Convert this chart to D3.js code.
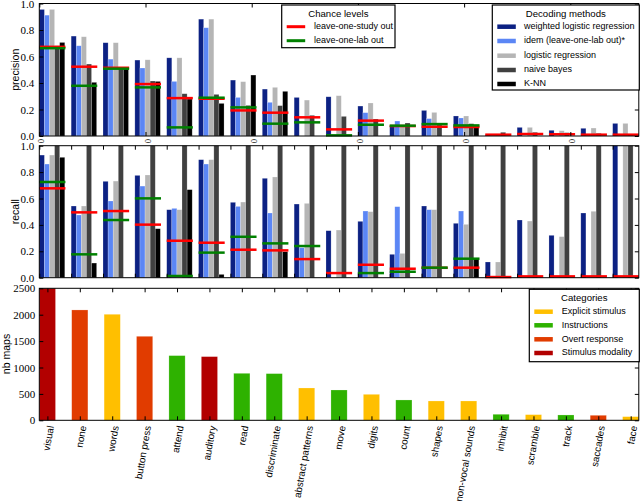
<!DOCTYPE html>
<html><head><meta charset="utf-8">
<script src="https://cdn.jsdelivr.net/npm/d3@7"></script>
<style>body{margin:0;background:#fff}svg{display:block}</style>
</head><body>
<script>
const categories = ["visual","none","words","button press","attend","auditory","read","discriminate","abstract patterns","move","digits","count","shapes","non-vocal sounds","inhibit","scramble","track","saccades","face"];
const methods = ["weighted logistic regression","idem (leave-one-lab out)*","logistic regression","naive bayes","K-NN"];
const methodColors = ["#0c2183","#5b86f5","#b5b5b5","#404040","#000000"];

const precisionWLR  = [0.955,0.754,0.704,0.573,0.59,0.882,0.422,0.354,0.291,0.296,0.226,0.075,0.193,0.151,0.01,0.065,0.043,0.058,0.095];
const precisionIdem = [0.912,0.681,0.58,0.513,0.412,0.817,0.291,0.254,0,0,0.176,0.113,0.131,0.136,0,0,0,0,0];
const precisionLR   = [0.955,0.749,0.704,0.575,0.59,0.882,0.41,0.367,0.271,0.304,0.249,0.08,0.178,0.151,0.01,0.065,0.04,0.06,0.095];
const precisionNB   = [0.68,0.543,0.515,0.415,0.319,0.314,0.231,0.229,0.156,0.148,0.128,0.098,0.083,0.093,0.028,0.028,0.025,0.02,0.013];
const precisionKNN  = [0.706,0.405,0.51,0.412,0.279,0.246,0.46,0.337,0,0,0,0,0,0.063,0,0,0,0,0];
const chanceStudyP  = [0.673,0.523,0.515,0.392,0.286,0.281,0.193,0.176,0.141,0.05,0.116,0.075,0.07,0.068,0.01,0.015,0.013,0.01,0.01];
const chanceLabP    = [0.663,0.379,0.508,0.367,0.065,0.289,0.216,0.093,0.103,0.005,0.085,0.078,0.09,0.08,null,null,null,null,null];

const recallWLR  = [0.929,0.543,0.73,0.775,0.515,0.894,0.571,0.753,0.558,0.356,0.427,0.177,0.543,0.412,0.119,0.437,0.321,0.49,1.0];
const recallIdem = [0.861,0.475,0.581,0.694,0.525,0.861,0.54,0.49,0.227,0,0.505,0.538,0.515,0.505,0,0,0,0,0];
const recallLR   = [0.929,0.543,0.732,0.778,0.515,0.894,0.573,0.763,0.563,0.361,0.5,0.184,0.515,0.404,0.119,0.429,0.311,0.503,1.0];
const recallNB   = [1,1,1,1,1,1,1,1,1,1,1,1,1,1,1,1,1,1,1];
const recallKNN  = [0.912,0.111,0,0.371,0.667,0.025,0,0.197,0,0,0,0,0,0.146,0,0,0,0,0];
const chanceStudyR = [0.677,0.495,0.505,0.402,0.28,0.265,0.212,0.207,0.141,0.035,0.098,0.068,0.075,0.076,0.005,0.01,0.01,0.01,0.01];
const chanceLabR   = [0.725,0.177,0.437,0.601,0.013,0.19,0.31,0.26,0.24,null,0.035,0.045,0.076,0.144,null,null,null,null,null];

const nbMaps = [2500,2090,2008,1591,1225,1206,890,884,612,574,492,385,366,366,114,107,101,95,69];
const catTypes = ["Stimulus modality","Overt response","Explicit stimulus","Overt response","Instructions","Stimulus modality","Instructions","Instructions","Explicit stimulus","Instructions","Explicit stimulus","Instructions","Explicit stimulus","Explicit stimulus","Instructions","Explicit stimulus","Instructions","Overt response","Explicit stimulus"];
const typeNames = ["Explicit stimulus","Instructions","Overt response","Stimulus modality"];
const typeColors = ["#ffbf00","#2eb200","#e13c00","#b20000"];
const chanceNames = ["leave-one-study out","leave-one-lab out"];
const chanceColors = ["#ff0000","#008000"];
const scoreTicks = [0,0.2,0.4,0.6,0.8,1.0];
const mapTicks = [0,500,1000,1500,2000,2500];

const W=640,H=501, L=39.3, R=638.8;
const serif = "'Liberation Serif','DejaVu Serif',serif";
const sans = "'Liberation Sans','DejaVu Sans',sans-serif";
const svg = d3.select("body").append("svg").attr("width",W).attr("height",H);

const xg = d3.scaleLinear().domain([0,18.82]).range([L,R]);
const barW = 0.16;
const typeColor = d3.scaleOrdinal().domain(typeNames).range(typeColors);

function scorePanel(top,bottom,series,chanceA,chanceB,label,xticks){
  const y = d3.scaleLinear().domain([0,1]).range([bottom,top]);
  const g = svg.append("g");
  g.append("rect").attr("x",L).attr("y",top).attr("width",R-L).attr("height",bottom-top).attr("fill","#fff");
  series.forEach((vals,k)=>{
    g.selectAll(null).data(vals).join("rect")
      .attr("x",(d,i)=>xg(i+k*barW)).attr("width",xg(barW)-xg(0))
      .attr("y",d=>y(d)).attr("height",d=>y(0)-y(d))
      .attr("fill",methodColors[k]).attr("stroke","#fff").attr("stroke-opacity",0.35).attr("stroke-width",0.6);
  });
  [chanceA,chanceB].forEach((vals,k)=>{
    g.selectAll(null).data(vals.map((v,i)=>({v,i})).filter(d=>d.v!==null)).join("line")
      .attr("x1",d=>xg(d.i)).attr("x2",d=>xg(d.i+0.82))
      .attr("y1",d=>y(d.v)).attr("y2",d=>y(d.v))
      .attr("stroke",chanceColors[k]).attr("stroke-width",2.5);
  });
  const ax = d3.axisLeft(y).tickValues(scoreTicks).tickFormat(d3.format(".1f")).tickSizeInner(-4).tickSizeOuter(0).tickPadding(5);
  const ga = g.append("g").attr("transform",`translate(${L},0)`).call(ax);
  ga.select(".domain").remove();
  ga.selectAll("text").attr("font-family",serif).attr("font-size",11);
  const axr = d3.axisRight(y).tickValues(scoreTicks).tickFormat("").tickSizeInner(-4).tickSizeOuter(0);
  g.append("g").attr("transform",`translate(${R},0)`).call(axr).select(".domain").remove();
  const axt = d3.axisTop(xg).tickValues(xticks).tickFormat("").tickSizeInner(-4).tickSizeOuter(0);
  g.append("g").attr("transform",`translate(0,${top})`).call(axt).select(".domain").remove();
  const axb = d3.axisBottom(xg).tickValues(xticks).tickFormat("").tickSizeInner(-4).tickSizeOuter(0);
  g.append("g").attr("transform",`translate(0,${bottom})`).call(axb).select(".domain").remove();
  g.append("rect").attr("x",L).attr("y",top).attr("width",R-L).attr("height",bottom-top).attr("fill","none").attr("stroke","#000").attr("stroke-width",1);
  g.append("text").attr("transform",`translate(19,${(top+bottom)/2}) rotate(-90)`).attr("text-anchor","middle")
    .attr("font-family",sans).attr("font-size",10.5).text(label);
  return g;
}

const precTicks = [0,1,2,3,4,5].map(k=>k*3.334);
scorePanel(3.5,136,[precisionWLR,precisionIdem,precisionLR,precisionNB,precisionKNN],chanceStudyP,chanceLabP,"precision",precTicks);
// rotated tick label remnants from the precision x axis
svg.selectAll(null).data(precTicks).join("text")
  .attr("transform",d=>`translate(${xg(d)+1},${139}) rotate(90)`)
  .attr("font-family",serif).attr("font-size",8.5).attr("dominant-baseline","middle").text("0");
scorePanel(145.7,277.7,[recallWLR,recallIdem,recallLR,recallNB,recallKNN],chanceStudyR,chanceLabR,"recall",d3.range(19));

// bottom panel
const xb = d3.scaleLinear().domain([-0.25,18.25]).range([L,R]);
const yb = d3.scaleLinear().domain([0,2500]).range([420.3,288.3]);
const gb = svg.append("g");
gb.selectAll(null).data(nbMaps).join("rect")
  .attr("x",(d,i)=>xb(i-0.25)).attr("width",xb(0.5)-xb(0))
  .attr("y",d=>yb(d)).attr("height",d=>yb(0)-yb(d))
  .attr("fill",(d,i)=>typeColor(catTypes[i])).attr("stroke","#fff").attr("stroke-opacity",0.35).attr("stroke-width",0.6);
const bl = gb.append("g").attr("transform",`translate(${L},0)`).call(d3.axisLeft(yb).tickValues(mapTicks).tickFormat(d3.format("d")).tickSizeInner(-4).tickSizeOuter(0).tickPadding(4));
bl.select(".domain").remove();
bl.selectAll("text").attr("font-family",serif).attr("font-size",11);
gb.append("g").attr("transform",`translate(${R},0)`).call(d3.axisRight(yb).tickValues(mapTicks).tickFormat("").tickSizeInner(-4).tickSizeOuter(0)).select(".domain").remove();
gb.append("g").attr("transform",`translate(0,288.3)`).call(d3.axisTop(xb).tickValues(d3.range(19)).tickFormat("").tickSizeInner(-4).tickSizeOuter(0)).select(".domain").remove();
gb.append("g").attr("transform",`translate(0,420.3)`).call(d3.axisBottom(xb).tickValues(d3.range(19)).tickFormat("").tickSizeInner(-4).tickSizeOuter(0)).select(".domain").remove();
gb.append("rect").attr("x",L).attr("y",288.3).attr("width",R-L).attr("height",420.3-288.3).attr("fill","none").attr("stroke","#000");
gb.selectAll(null).data(categories).join("text")
  .attr("transform",(d,i)=>`translate(${xb(i)+4},426) rotate(-80)`)
  .attr("text-anchor","end").attr("dominant-baseline","middle")
  .attr("font-family",sans).attr("font-size",9.8).text(d=>d);
gb.append("text").attr("transform",`translate(10,354) rotate(-90)`).attr("text-anchor","middle")
  .attr("font-family",sans).attr("font-size",10.5).text("nb maps");

// legends
function legend(x,y,w,h,title,names,colors,rowY,patchH,textX){
  const g = svg.append("g");
  g.append("rect").attr("x",x).attr("y",y).attr("width",w).attr("height",h).attr("fill","#fff").attr("stroke","#000").attr("stroke-width",1.2);
  g.append("text").attr("x",x+w/2).attr("y",y+11.5).attr("text-anchor","middle").attr("font-family",sans).attr("font-size",9.6).text(title);
  names.forEach((n,i)=>{
    const cy = y+rowY[i];
    g.append("rect").attr("x",x+5).attr("y",cy-patchH/2).attr("width",18.5).attr("height",patchH).attr("fill",colors[i]);
    g.append("text").attr("x",x+textX).attr("y",cy).attr("dominant-baseline","middle").attr("font-family",sans).attr("font-size",9).text(n);
  });
}
legend(281.7,5,113.3,42.7,"Chance levels",chanceNames,chanceColors,[21.7,35.7],3,32.3);
legend(492.3,5,147,85,"Decoding methods",methods,methodColors,[21.7,36,50.7,65,79],4.5,31.7);
legend(529.3,289.3,110,72.4,"Categories",typeNames,typeColors,[22.4,36,50,63.7],4.5,32.4);
</script>
</body></html>
